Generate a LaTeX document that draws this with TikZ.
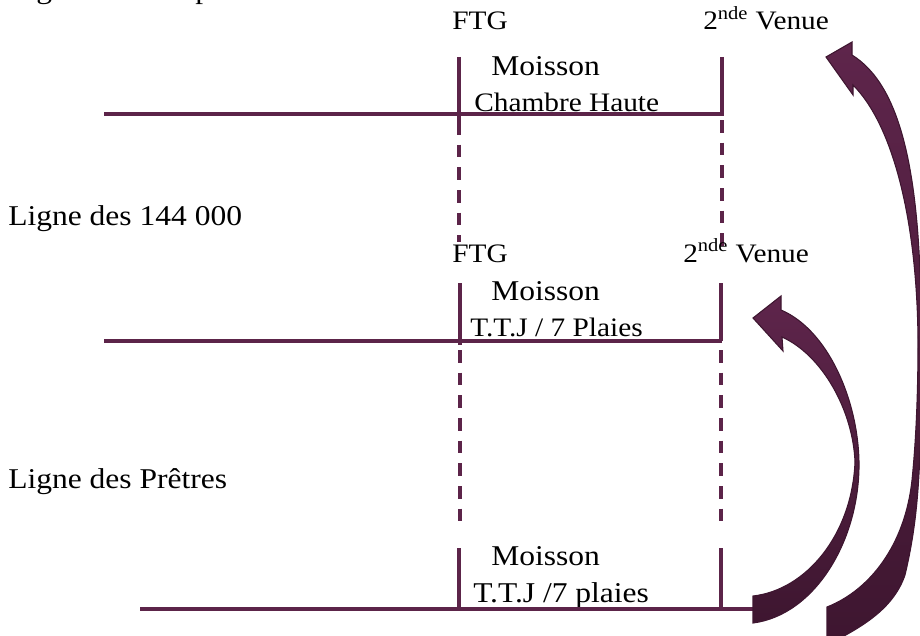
\documentclass[tikz,border=0pt]{standalone}
\usepackage{fontspec}
\setmainfont[FakeStretch=1.1]{Liberation Serif}
\definecolor{plum}{HTML}{5C2449}
\definecolor{plumdark}{HTML}{3E1630}
\definecolor{plumlight}{HTML}{5E254B}
\begin{document}
\begin{tikzpicture}[x=0.75pt,y=-0.75pt,
  txt/.style={anchor=base west,inner sep=0pt,font=\fontsize{20}{22}\selectfont},
  wide/.style={font=\fontsize{21.5}{23}\selectfont},
  solidline/.style={draw=plum,line width=2.3pt},
  dashline/.style={draw=plum,line width=2.3pt,dash pattern=on 9.5pt off 7.5pt},
  arrowshape/.style={top color=plumlight,bottom color=plumdark,draw=plumdark,line width=0.8pt}]
\useasboundingbox (0,0) rectangle (920,635);
\clip (0,0) rectangle (920,635);

% left labels
\node[txt,wide] (ltop) at (8,-1) {Ligne des Temps};
\node[txt,wide] (l144) at (8,225) {Ligne des 144 000};
\node[txt,wide] (lpre) at (8,488) {Ligne des Prêtres};

% top section
\node[txt] (ftg1) at (452,30) {FTG};
\node[txt] (ven1) at (703,30) {2\textsuperscript{nde} Venue};
\node[txt,wide] (mo1) at (491,75) {Moisson};
\node[txt] (ch1) at (474,111) {Chambre Haute};

\coordinate (h1w) at (104,114); \coordinate (h1e) at (722,114);
\coordinate (a1t) at (459,57);  \coordinate (a1b) at (459,122);
\coordinate (b1t) at (722,57);  \coordinate (b1b) at (722,116);
\coordinate (a1d) at (459,242); \coordinate (b1d) at (722,247);
\coordinate (b1s) at (722,120);
\draw[solidline] (h1w) -- (h1e);
\draw[solidline] (a1t) -- (a1b);
\draw[solidline] (b1t) -- (b1b);
\draw[dashline] (a1b) -- (a1d);
\draw[dashline] (b1s) -- (b1d);

% middle section
\node[txt] (ftg2) at (452,262) {FTG};
\node[txt] (ven2) at (683,262) {2\textsuperscript{nde} Venue};
\node[txt,wide] (mo2) at (491,300) {Moisson};
\node[txt] (tt2) at (470,336) {T.T.J / 7 Plaies};

\coordinate (h2w) at (104,341); \coordinate (h2e) at (722,341);
\coordinate (a2t) at (460,283); \coordinate (a2b) at (460,345);
\coordinate (b2t) at (721,283); \coordinate (b2b) at (721,341);
\coordinate (a2s) at (460,350); \coordinate (a2d) at (460,528);
\coordinate (b2s) at (721,350); \coordinate (b2d) at (721,528);
\draw[solidline] (h2w) -- (h2e);
\draw[solidline] (a2t) -- (a2b);
\draw[solidline] (b2t) -- (b2b);
\draw[dashline] (a2s) -- (a2d);
\draw[dashline] (b2s) -- (b2d);

% bottom section
\node[txt,wide] (mo3) at (491,565) {Moisson};
\node[txt,wide] (tt3) at (473,602) {T.T.J /7 plaies};
\coordinate (h3w) at (140,609); \coordinate (h3e) at (755,609);
\coordinate (a3t) at (459,548); \coordinate (a3b) at (459,607);
\coordinate (b3t) at (721,548); \coordinate (b3b) at (721,607);
\draw[solidline] (a3t) -- (a3b);
\draw[solidline] (b3t) -- (b3b);
\draw[solidline] (h3w) -- (h3e);

% curved arrow (lower)
\path[arrowshape] (753,318) -- (781,296) -- (781,310)
  .. controls (828,330) and (858,400) .. (859,462)
  .. controls (860,540) and (815,615) .. (753,623)
  -- (753,596)
  .. controls (806,590) and (852,535) .. (855,462)
  .. controls (853,410) and (822,355) .. (782,337)
  -- (783,351) -- cycle;

% curved arrow (right, large)
\path[arrowshape] (826,57) -- (852,42) -- (852,55)
  .. controls (900,85) and (922,170) .. (921,340)
  .. controls (922,470) and (918,520) .. (905,575)
  .. controls (893,610) and (860,628) .. (827,645)
  -- (827,607)
  .. controls (870,590) and (905,545) .. (912,480)
  .. controls (917,430) and (918,380) .. (918,340)
  .. controls (917,220) and (893,125) .. (853,85)
  -- (853,95) -- cycle;
\end{tikzpicture}
\end{document}
